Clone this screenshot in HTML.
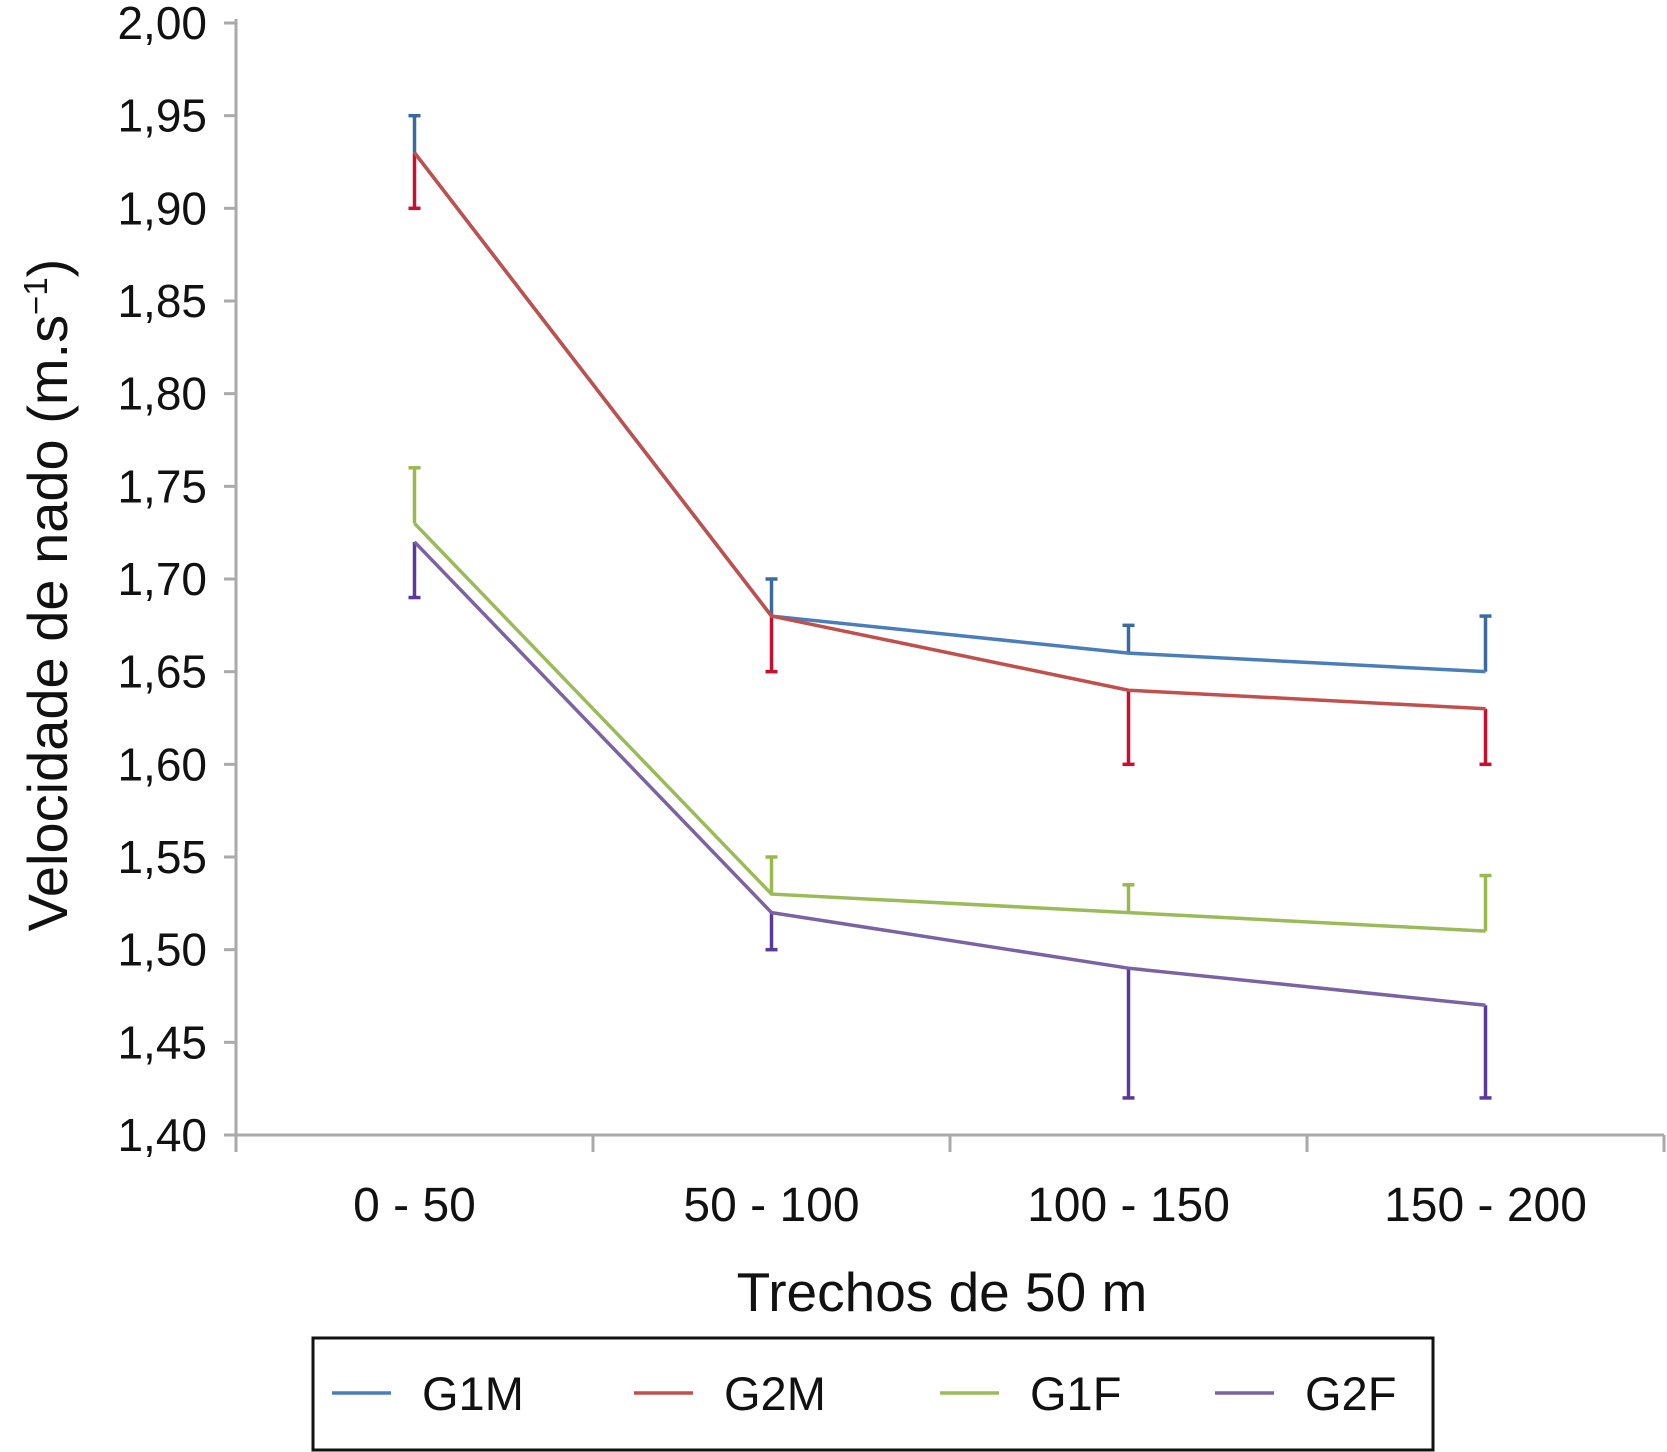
<!DOCTYPE html>
<html><head><meta charset="utf-8"><style>
body{margin:0;background:#fff}
svg{display:block;font-family:"Liberation Sans",Arial,sans-serif}
</style></head><body>
<svg id="c" width="1667" height="1452" viewBox="0 0 1667 1452"></svg>
<script>
const categories=["0 - 50","50 - 100","100 - 150","150 - 200"];
const seriesNames=["G1M","G2M","G1F","G2F"];
const g1m=[1.93,1.68,1.66,1.65];
const g2m=[1.93,1.68,1.64,1.63];
const g1f=[1.73,1.53,1.52,1.51];
const g2f=[1.72,1.52,1.49,1.47];
const g1mErr=[1.95,1.70,1.675,1.68];
const g2mErr=[1.90,1.65,1.60,1.60];
const g1fErr=[1.76,1.55,1.535,1.54];
const g2fErr=[1.69,1.50,1.42,1.42];
const yTicks=["1,40","1,45","1,50","1,55","1,60","1,65","1,70","1,75","1,80","1,85","1,90","1,95","2,00"];
const yMin=1.40,yMax=2.00;

const svg=document.getElementById('c');
const NS="http://www.w3.org/2000/svg";
const x0=236,x1=1664,yB=1135,yT=23;
const band=(x1-x0)/categories.length;
function X(i){return x0+band*(i+0.5);}
function Y(v){return yB-(v-yMin)/(yMax-yMin)*(yB-yT);}
function el(t,a,p){const e=document.createElementNS(NS,t);for(const k in a)e.setAttribute(k,a[k]);(p||svg).appendChild(e);return e;}

const ax=el('line',{x1:x0,y1:yT-4,x2:x0,y2:yB+17,stroke:'#aaa','stroke-width':3});


const bx=el('line',{x1:x0-12,y1:yB,x2:x1,y2:yB,stroke:'#aaa','stroke-width':3});


yTicks.forEach((t,i)=>{
  const v=yMin+i*0.05,y=Y(v);
  el('line',{x1:x0-12,y1:y,x2:x0,y2:y,stroke:'#aaa','stroke-width':3});
  const tx=el('text',{x:207,y:y+16,'text-anchor':'end','font-size':46,fill:'#111'});
  tx.textContent=t;
  
  
});
for(let i=1;i<=categories.length;i++){
  const x=x0+band*i;
  el('line',{x1:x,y1:yB,x2:x,y2:yB+17,stroke:'#aaa','stroke-width':3});
}
categories.forEach((c,i)=>{
  const tx=el('text',{x:X(i),y:1221,'text-anchor':'middle','font-size':48,fill:'#111'});
  tx.textContent=c;
  
  
});
const xt=el('text',{x:942,y:1311,'text-anchor':'middle','font-size':55,fill:'#111'});
xt.textContent="Trechos de 50 m";


const yt=el('text',{x:0,y:0,'text-anchor':'middle','font-size':56,fill:'#111',transform:'translate(67,595) rotate(-90)'});
yt.innerHTML='Velocidade de nado (m.s<tspan dy="-20" font-size="33">−1</tspan><tspan dy="20">)</tspan>';



const data=[g1m,g2m,g1f,g2f];
const errs=[g1mErr,g2mErr,g1fErr,g2fErr];
const colors=["#4a7ebb","#c0504d","#9bbb59","#7b63a3"];
const dark=["#3a6a9e","#c8102e","#9ab84e","#5a3a98"];
data.forEach((s,k)=>{
  s.forEach((v,i)=>{
    const e=errs[k][i],x=X(i);
    const g=el('g',{});
    
    
    el('line',{x1:x,y1:Y(v),x2:x,y2:Y(e),stroke:dark[k],'stroke-width':3.5},g);
    el('line',{x1:x-6,y1:Y(e),x2:x+6,y2:Y(e),stroke:dark[k],'stroke-width':3.5},g);
  });
});
data.forEach((s,k)=>{
  const p=el('polyline',{points:s.map((v,i)=>X(i)+','+Y(v)).join(' '),fill:'none',stroke:colors[k],'stroke-width':3.5});
  
  
});
const lg=el('g',{});


el('rect',{x:313,y:1338,width:1120,height:112,fill:'none',stroke:'#111','stroke-width':3},lg);
const lx=[332,634,940,1215];
seriesNames.forEach((n,k)=>{
  const g=el('g',{},lg);
  
  
  el('line',{x1:lx[k],y1:1393,x2:lx[k]+59,y2:1393,stroke:colors[k],'stroke-width':3.5},g);
  const t=el('text',{x:lx[k]+90,y:1410,'font-size':47,fill:'#111'},g);
  t.textContent=n;
});
</script>
</body></html>
